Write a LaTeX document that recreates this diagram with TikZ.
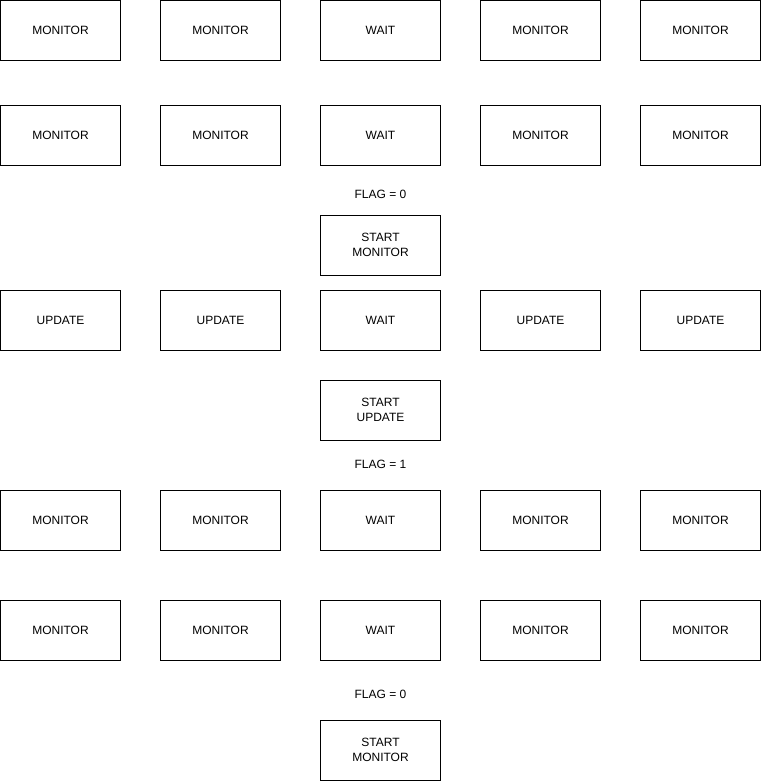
\documentclass[tikz,border=0pt]{standalone}
\usepackage{fontspec}
\setmainfont{Liberation Sans}
\begin{document}
\begin{tikzpicture}[x=1pt,y=-1pt,
  cell/.style={draw=black,line width=0.8pt,minimum width=120pt,minimum height=60pt,
    inner sep=0pt,align=center,font=\fontsize{12}{15}\selectfont},
  flag/.style={inner sep=0pt,font=\fontsize{12}{15}\selectfont}]
\useasboundingbox (0,0) rectangle (761,781);
% five columns of state boxes
\foreach \r/\y/\a/\b in {1/30/MONITOR/WAIT,2/135/MONITOR/WAIT,3/320/UPDATE/WAIT,4/520/MONITOR/WAIT,5/630/MONITOR/WAIT}{
  \node[cell] (r\r c1) at (60.5,\y) {\a};
  \node[cell] (r\r c2) at (220.5,\y) {\a};
  \node[cell] (r\r c3) at (380.5,\y) {\b};
  \node[cell] (r\r c4) at (540.5,\y) {\a};
  \node[cell] (r\r c5) at (700.5,\y) {\a};
}
% flag labels and start commands
\node[flag] (f1) at (380.5,194) {FLAG = 0};
\node[cell] (s1) at (380.5,245) {START\\MONITOR};
\node[cell] (s2) at (380.5,410) {START\\UPDATE};
\node[flag] (f2) at (380.5,464) {FLAG = 1};
\node[flag] (f3) at (380.5,694) {FLAG = 0};
\node[cell] (s3) at (380.5,750) {START\\MONITOR};
\end{tikzpicture}
\end{document}
